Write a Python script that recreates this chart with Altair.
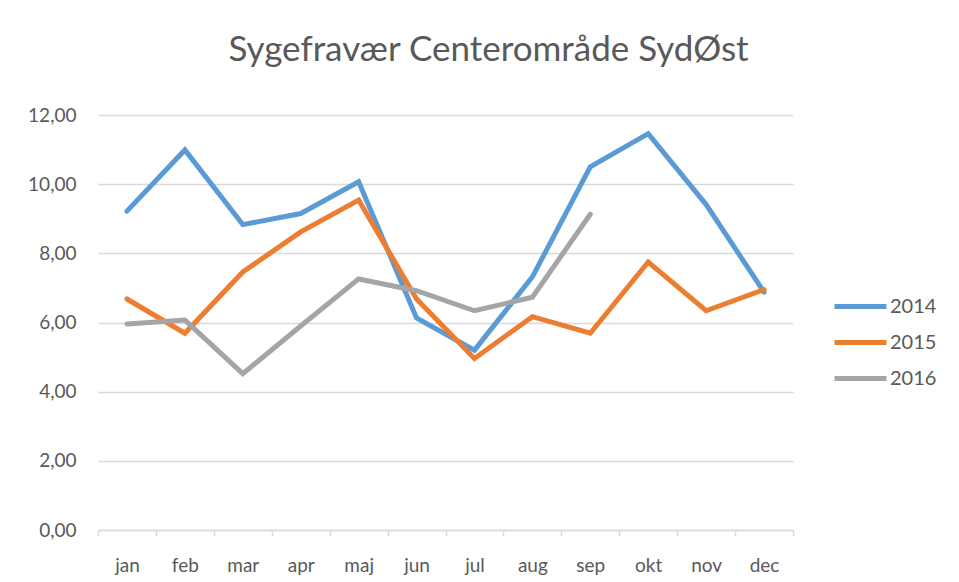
import altair as alt
import pandas as pd

months = ["jan", "feb", "mar", "apr", "maj", "jun", "jul", "aug", "sep", "okt", "nov", "dec"]
v2014 = [9.22, 10.99, 8.83, 9.15, 10.07, 6.13, 5.20, 7.32, 10.50, 11.46, 9.41, 6.88]
v2015 = [6.68, 5.69, 7.46, 8.62, 9.54, 6.68, 4.96, 6.17, 5.69, 7.75, 6.34, 6.95]
v2016 = [5.96, 6.07, 4.52, 5.90, 7.26, 6.92, 6.34, 6.73, 9.13]
years = ["2014", "2015", "2016"]
colors = ["#5B9BD5", "#ED7D31", "#A5A5A5"]

rows = []
for yr, vals in zip(years, [v2014, v2015, v2016]):
    for m, v in zip(months, vals):
        rows.append({"month": m, "year": yr, "value": v})
df = pd.DataFrame(rows)

FONT = "Lato"
TXT = "#595959"

chart = alt.Chart(df).mark_line(strokeWidth=5, strokeCap="round", strokeJoin="miter").encode(
    x=alt.X("month:N", sort=months, title=None,
            scale=alt.Scale(type="band", paddingInner=0, paddingOuter=0),
            axis=alt.Axis(labelAngle=0, tickBand="extent", ticks=True, tickSize=6,
                          tickColor="#d9d9d9", tickWidth=1.5, domainColor="#d9d9d9",
                          domainWidth=1.5, labelPadding=20, labelFontSize=19,
                          labelColor=TXT, labelFont=FONT, grid=False)),
    y=alt.Y("value:Q", title=None,
            scale=alt.Scale(domain=[0, 12], nice=False),
            axis=alt.Axis(values=[0, 2, 4, 6, 8, 10, 12], ticks=False, domain=False,
                          gridColor="#d9d9d9", gridWidth=1.5, labelPadding=22,
                          labelFontSize=19, labelColor=TXT, labelFont=FONT,
                          labelExpr="replace(format(datum.value, '.2f'), '.', ',')")),
    color=alt.Color("year:N", scale=alt.Scale(domain=years, range=colors), title=None,
                    legend=alt.Legend(orient="none", legendX=747, legendY=176,
                                      symbolType="M-2,0H2", symbolSize=676,
                                      symbolStrokeWidth=5, labelFontSize=20,
                                      labelColor=TXT, labelFont=FONT, labelOffset=14,
                                      rowPadding=10)),
).properties(
    width=695, height=415,
    title=alt.Title("Sygefravær Centerområde SydØst", fontSize=35, font=FONT,
                    color=TXT, fontWeight="normal", anchor="middle", dx=43, offset=38),
    autosize=alt.AutoSizeParams(type="none"),
    padding={"left": 90, "top": 107, "right": 158, "bottom": 52},
).configure_view(stroke=None)

chart.save("out.html", embed_options={"renderer": "svg", "actions": False})
